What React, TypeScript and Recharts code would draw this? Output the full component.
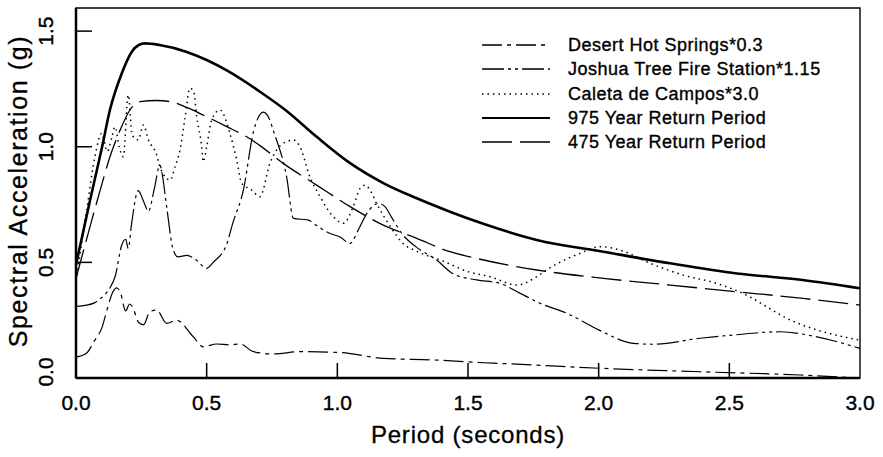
import React from 'react';
import { LineChart, Line, XAxis, YAxis, ReferenceArea, Label } from 'recharts';

// ---- Data (period in seconds, spectral acceleration in g) ----
const periods975 = [0, 0.054, 0.1, 0.13, 0.175, 0.213, 0.24, 0.264, 0.32, 0.424, 0.5, 0.577, 0.704, 0.8, 0.921, 1.049, 1.176, 1.304, 1.431, 1.55, 1.763, 2.018, 2.273, 2.529, 2.78, 3.0];
const sa975 = [0.49, 0.77, 1.0, 1.16, 1.317, 1.41, 1.44, 1.447, 1.44, 1.41, 1.375, 1.33, 1.238, 1.16, 1.043, 0.929, 0.843, 0.777, 0.719, 0.67, 0.597, 0.546, 0.496, 0.452, 0.424, 0.388];

const periods475 = [0, 0.092, 0.13, 0.168, 0.207, 0.245, 0.309, 0.36, 0.424, 0.487, 0.577, 0.653, 0.704, 0.793, 0.921, 1.049, 1.176, 1.304, 1.431, 1.533, 1.763, 2.018, 2.273, 2.529, 2.783, 3.0];
const sa475 = [0.43, 0.81, 0.957, 1.07, 1.16, 1.195, 1.2, 1.195, 1.17, 1.137, 1.087, 1.043, 1.005, 0.928, 0.834, 0.741, 0.661, 0.604, 0.546, 0.517, 0.467, 0.431, 0.402, 0.373, 0.344, 0.315];

const periodsCaleta = [0, 0.04, 0.073, 0.098, 0.12, 0.137, 0.149, 0.165, 0.181, 0.2, 0.215, 0.238, 0.258, 0.277, 0.309, 0.321, 0.36, 0.379, 0.398, 0.417, 0.436, 0.45, 0.462, 0.481, 0.487, 0.5, 0.519, 0.551, 0.589, 0.615, 0.634, 0.672, 0.704, 0.742, 0.793, 0.832, 0.857, 0.895, 0.934, 0.985, 1.023, 1.061, 1.087, 1.106, 1.125, 1.15, 1.2, 1.253, 1.3, 1.406, 1.5, 1.584, 1.687, 1.763, 1.8, 1.929, 2.005, 2.082, 2.197, 2.324, 2.452, 2.58, 2.643, 2.72, 2.835, 3.0];
const saCaleta = [0.42, 0.72, 0.96, 1.058, 0.98, 1.04, 1.086, 1.0, 0.957, 1.224, 1.05, 1.03, 1.094, 1.03, 0.964, 0.913, 0.856, 0.913, 0.986, 1.123, 1.253, 1.24, 1.13, 1.0, 0.935, 1.0, 1.115, 1.159, 1.058, 0.942, 0.842, 0.813, 0.784, 0.928, 1.015, 1.029, 1.0, 0.87, 0.784, 0.697, 0.669, 0.741, 0.82, 0.834, 0.813, 0.755, 0.66, 0.58, 0.55, 0.505, 0.46, 0.438, 0.402, 0.438, 0.467, 0.539, 0.568, 0.553, 0.496, 0.445, 0.409, 0.35, 0.308, 0.258, 0.208, 0.164];

const periodsJoshua = [0, 0.04, 0.07, 0.09, 0.11, 0.13, 0.15, 0.175, 0.19, 0.2, 0.213, 0.238, 0.26, 0.277, 0.3, 0.321, 0.33, 0.347, 0.372, 0.39, 0.424, 0.46, 0.5, 0.525, 0.577, 0.6, 0.64, 0.68, 0.717, 0.74, 0.755, 0.806, 0.832, 0.889, 0.92, 0.97, 1.01, 1.049, 1.08, 1.112, 1.157, 1.183, 1.21, 1.25, 1.3, 1.38, 1.444, 1.533, 1.62, 1.7, 1.776, 1.878, 2.0, 2.133, 2.21, 2.388, 2.516, 2.694, 2.835, 3.0];
const saJoshua = [0.31, 0.315, 0.325, 0.34, 0.36, 0.39, 0.44, 0.575, 0.6, 0.56, 0.67, 0.81, 0.76, 0.72, 0.82, 0.92, 0.88, 0.74, 0.553, 0.524, 0.53, 0.51, 0.474, 0.5, 0.58, 0.67, 0.81, 1.07, 1.15, 1.12, 1.07, 0.87, 0.69, 0.683, 0.66, 0.626, 0.61, 0.582, 0.64, 0.71, 0.755, 0.74, 0.69, 0.62, 0.568, 0.51, 0.45, 0.424, 0.41, 0.366, 0.323, 0.28, 0.208, 0.15, 0.146, 0.172, 0.186, 0.2, 0.178, 0.128];

const periodsDesert = [0, 0.04, 0.07, 0.1, 0.12, 0.14, 0.156, 0.17, 0.19, 0.205, 0.215, 0.24, 0.258, 0.283, 0.309, 0.347, 0.385, 0.449, 0.487, 0.538, 0.589, 0.628, 0.679, 0.755, 0.857, 1.01, 1.176, 1.368, 1.559, 1.623, 2.005, 2.388, 2.77, 3.0];
const saDesert = [0.09, 0.107, 0.16, 0.22, 0.3, 0.37, 0.39, 0.37, 0.29, 0.32, 0.31, 0.24, 0.23, 0.287, 0.294, 0.236, 0.25, 0.178, 0.135, 0.147, 0.143, 0.147, 0.114, 0.104, 0.114, 0.11, 0.085, 0.078, 0.066, 0.063, 0.042, 0.027, 0.013, 0.0];

const xTicks = [0, 0.5, 1.0, 1.5, 2.0, 2.5, 3.0];
const yTicks = [0, 0.5, 1.0, 1.5];

const toRows = (t: number[], v: number[]) => t.map((T, i) => ({ T, SA: v[i] }));

const FONT = '"Liberation Sans", Arial, Helvetica, sans-serif';

const seriesDefs = [
  { name: 'Desert Hot Springs*0.3', data: toRows(periodsDesert, saDesert), dash: '20 5 4 5', width: 1.2 },
  { name: 'Joshua Tree Fire Station*1.15', data: toRows(periodsJoshua, saJoshua), dash: '22 4 3 4 3 4', width: 1.2 },
  { name: 'Caleta de Campos*3.0', data: toRows(periodsCaleta, saCaleta), dash: '1.5 4', width: 1.5 },
  { name: '975 Year Return Period', data: toRows(periods975, sa975), dash: undefined as string | undefined, width: 2.6 },
  { name: '475 Year Return Period', data: toRows(periods475, sa475), dash: '30 8', width: 1.3 },
];

const XTick = (props: any) => {
  const { x, y, payload } = props;
  const v = Number(payload.value);
  const mark = v > 0 && v < 3;
  return (
    <g>
      {mark && <line x1={x} y1={y} x2={x} y2={y - 15} stroke="#000" strokeWidth={1.5} />}
      <text x={x} y={y + 32} textAnchor="middle" fontSize={21} fontFamily={FONT} fill="#000" stroke="#000" strokeWidth={0.4}>
        {v.toFixed(1)}
      </text>
    </g>
  );
};

const YTick = (props: any) => {
  const { x, y, payload } = props;
  const v = Number(payload.value);
  const mark = v > 0;
  const tx = x - 23;
  const ty = v === 0 ? y - 6 : y;
  return (
    <g>
      {mark && <line x1={x} y1={y} x2={x + 16} y2={y} stroke="#000" strokeWidth={1.5} />}
      <text x={tx} y={ty} textAnchor="middle" fontSize={21} fontFamily={FONT} fill="#000" stroke="#000" strokeWidth={0.4} transform={`rotate(-90, ${tx}, ${ty})`}>
        {v.toFixed(1)}
      </text>
    </g>
  );
};

const XTitle = (props: any) => {
  const vb = props.viewBox || { x: 76, y: 378, width: 784 };
  const cx = vb.x + vb.width / 2;
  return (
    <text x={cx} y={vb.y + 65} textAnchor="middle" fontSize={24} letterSpacing={0.8} fontFamily={FONT} fill="#000" stroke="#000" strokeWidth={0.3}>
      Period (seconds)
    </text>
  );
};

const YTitle = (props: any) => {
  const vb = props.viewBox || { x: 0, y: 8, height: 370 };
  const cy = vb.y + vb.height / 2 - 2;
  const cx = 27;
  return (
    <text x={cx} y={cy} textAnchor="middle" fontSize={25} letterSpacing={1.6} fontFamily={FONT} fill="#000" stroke="#000" strokeWidth={0.3} transform={`rotate(-90, ${cx}, ${cy})`}>
      Spectral Acceleration (g)
    </text>
  );
};

const LegendBox = () => (
  <div style={{ position: 'absolute', left: 480, top: 33, fontFamily: FONT, fontSize: 18, letterSpacing: 0.5, color: '#000', WebkitTextStroke: '0.35px #000' }}>
    {seriesDefs.map((s) => (
      <div key={s.name} style={{ display: 'flex', alignItems: 'center', height: 24.3, whiteSpace: 'nowrap' }}>
        <svg width={72} height={10} style={{ display: 'block' }}>
          <line x1={2} y1={5} x2={70} y2={5} stroke="#000" strokeWidth={s.width > 2 ? 2 : 1.3} strokeDasharray={s.dash} />
        </svg>
        <span style={{ marginLeft: 16, lineHeight: '24px' }}>{s.name}</span>
      </div>
    ))}
  </div>
);

export default function App() {
  return (
    <div style={{ position: 'absolute', left: 0, top: 0, width: 883, height: 457, background: '#fff' }}>
      <LineChart width={883} height={457} margin={{ top: 8, right: 23, bottom: 0, left: 0 }}>
        <XAxis
          dataKey="T"
          type="number"
          domain={[0, 3]}
          ticks={xTicks}
          allowDataOverflow
          height={79}
          tickSize={0}
          tickMargin={0}
          tickLine={false}
          tick={<XTick />}
          axisLine={{ stroke: '#000', strokeWidth: 2.5 }}
        >
          <Label content={<XTitle />} />
        </XAxis>
        <YAxis
          type="number"
          domain={[0, 1.6]}
          ticks={yTicks}
          allowDataOverflow
          width={76}
          tickSize={0}
          tickMargin={0}
          tickLine={false}
          tick={<YTick />}
          axisLine={{ stroke: '#000', strokeWidth: 2.5 }}
        >
          <Label content={<YTitle />} />
        </YAxis>
        <ReferenceArea x1={0} x2={3} y1={0} y2={1.6} fill="none" stroke="#000" strokeWidth={1.4} ifOverflow="visible" />
        {seriesDefs.map((s) => (
          <Line
            key={s.name}
            name={s.name}
            data={s.data}
            dataKey="SA"
            type="monotone"
            stroke="#000"
            strokeWidth={s.width}
            strokeDasharray={s.dash}
            dot={false}
            activeDot={false}
            isAnimationActive={false}
          />
        ))}
      </LineChart>
      <LegendBox />
    </div>
  );
}
